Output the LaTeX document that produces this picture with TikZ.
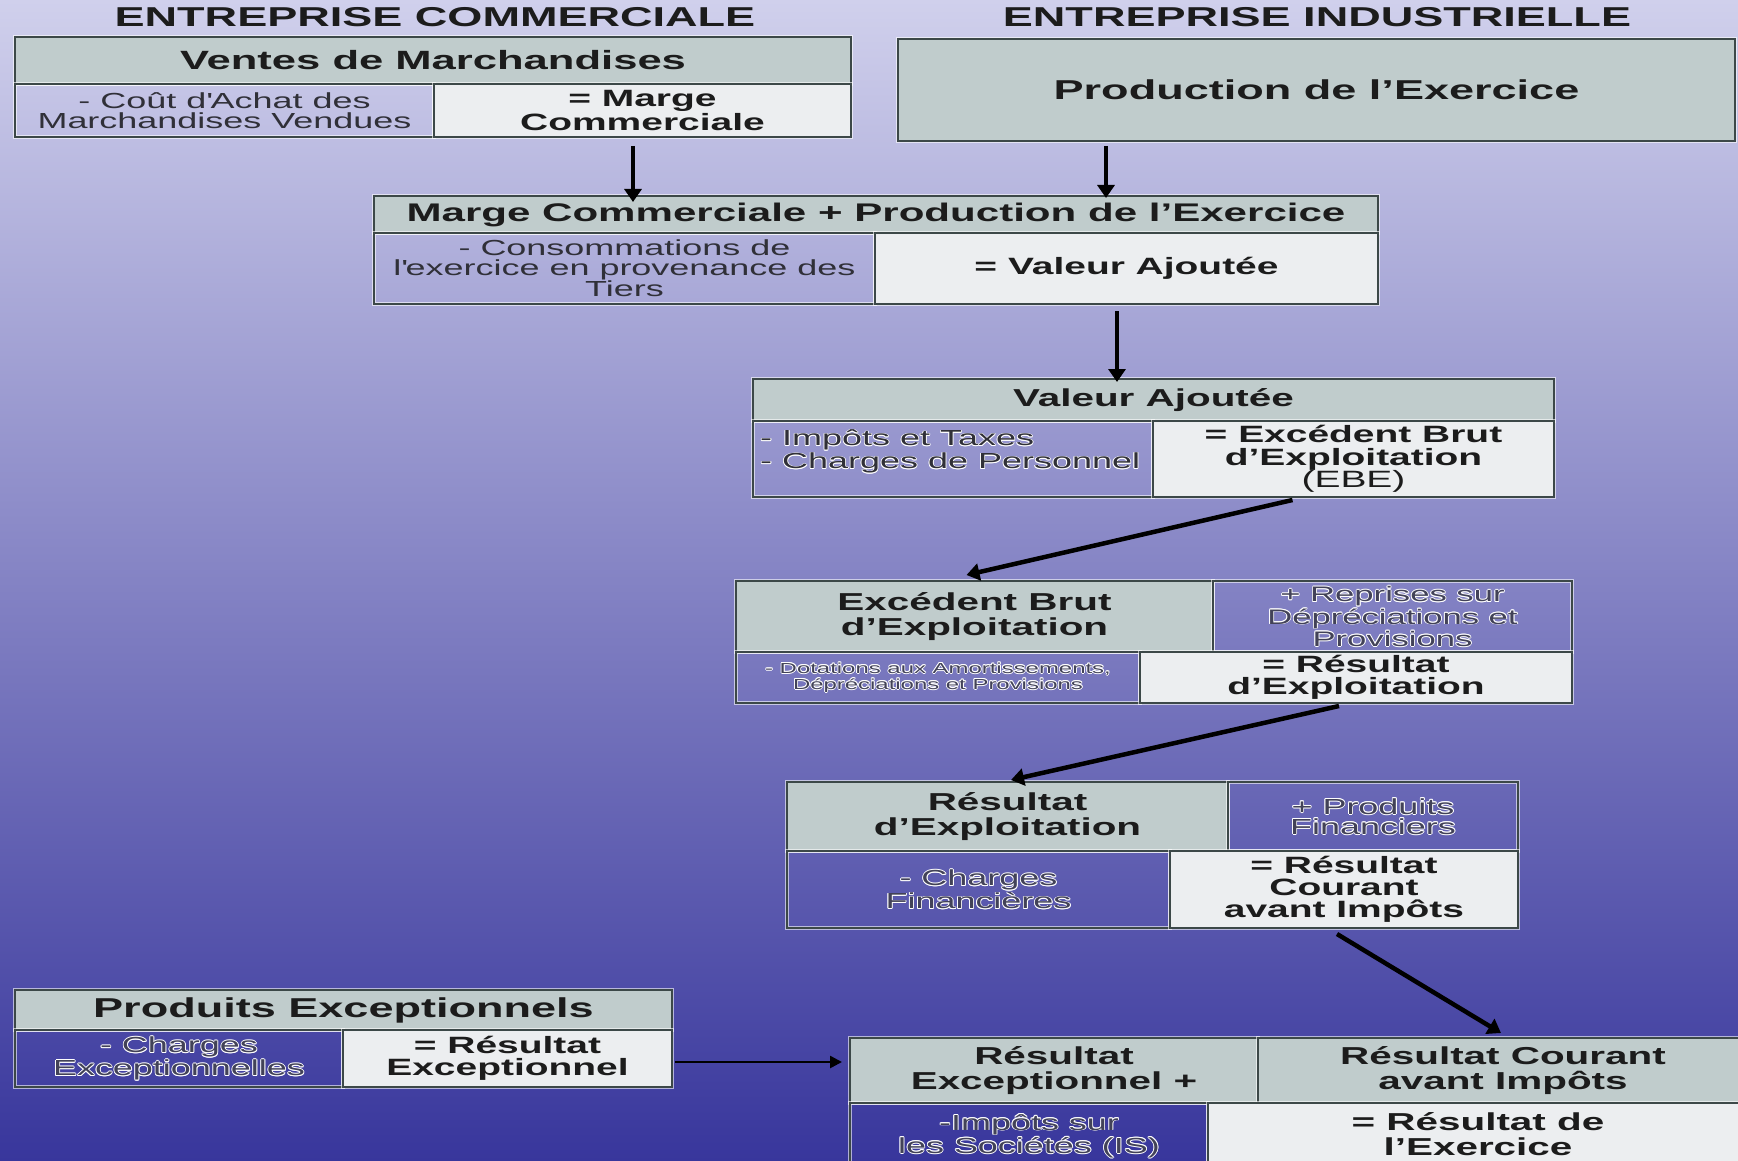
\documentclass[tikz,border=0pt]{standalone}
\usepackage{fontspec}
\setmainfont[FakeStretch=1.65]{Liberation Sans}
\usetikzlibrary{arrows.meta}
\definecolor{bgtop}{RGB}{208,208,236}
\definecolor{bgbot}{RGB}{56,54,156}
\definecolor{hdrc}{RGB}{192,204,204}
\definecolor{litec}{RGB}{236,238,240}
\definecolor{bdr}{RGB}{60,72,72}
\definecolor{txt}{RGB}{28,28,28}
\definecolor{txtr}{RGB}{48,48,56}
\definecolor{txtl}{RGB}{66,66,88}
\newcommand\txhalo[1]{\leavevmode\setbox0=\hbox{#1}%
\rlap{\color{white}\kern0.8pt\copy0}%
\rlap{\color{white}\kern-0.8pt\copy0}%
\rlap{\color{white}\raise0.8pt\copy0}%
\rlap{\color{white}\lower0.8pt\copy0}%
\rlap{\color{white}\kern0.6pt\raise0.6pt\copy0}%
\rlap{\color{white}\kern-0.6pt\raise0.6pt\copy0}%
\rlap{\color{white}\kern0.6pt\lower0.6pt\copy0}%
\rlap{\color{white}\kern-0.6pt\lower0.6pt\copy0}%
\box0}
\tikzset{
 cell/.style={draw=bdr, line width=2pt, inner sep=1pt, outer sep=0pt, anchor=north west, align=center, text=txt,
   preaction={draw=white, draw opacity=0.6, line width=4.5pt}},
 hdr/.style={cell, fill=hdrc},
 lite/.style={cell, fill=litec},
 pur/.style={cell, text=txtr},
 purl/.style={cell, text=txtl},
 fT/.style={font=\bfseries\fontsize{27.3}{28}\selectfont},
 fH/.style={font=\bfseries\fontsize{24.5}{25}\selectfont},
 fB/.style={font=\bfseries\fontsize{23.6}{22}\selectfont},
 fR/.style={font=\fontsize{21.8}{20}\selectfont},
 arr/.style={line width=4.5pt, -{Triangle[length=13pt,width=17pt]}},
}
\begin{document}
\begin{tikzpicture}[x=1pt,y=-1pt]
\useasboundingbox (0,0) rectangle (1738,1161);
\clip (0,0) rectangle (1738,1161);
\shade[top color=bgtop, bottom color=bgbot] (0,0) rectangle (1738,1161);

% titles
\node[fT, anchor=base, text=txt] (t1) at (435,27) {ENTREPRISE COMMERCIALE};
\node[fT, anchor=base, text=txt] (t2) at (1317,27) {ENTREPRISE INDUSTRIELLE};

% box 1
\node[hdr, minimum width=836pt, minimum height=47pt, font=\bfseries\fontsize{26.4}{27}\selectfont] (h1) at (15,37) {Ventes de Marchandises};
\node[pur, minimum width=419pt, minimum height=53pt, fR] (b1l) at (15,84) {- Coût d\textquotesingle Achat des\\Marchandises Vendues};
\node[lite, minimum width=417pt, minimum height=53pt, fB] (b1r) at (434,84) {= Marge\\Commerciale};

% production
\node[hdr, minimum width=837pt, minimum height=102pt, fT] (prod) at (898,39) {Production de l’Exercice};

% box 2
\node[hdr, minimum width=1004pt, minimum height=37pt, font=\bfseries\fontsize{25.5}{26}\selectfont] (h2) at (374,196) {Marge Commerciale + Production de l’Exercice};
\node[pur, minimum width=501pt, minimum height=71pt, fR] (b2l) at (374,233) {- Consommations de\\l\textquotesingle exercice en provenance des\\Tiers};
\node[lite, minimum width=503pt, minimum height=71pt, fB] (b2r) at (875,233) {= Valeur Ajoutée};

% box 3
\node[hdr, minimum width=801pt, minimum height=42pt, fH] (h3) at (753,379) {Valeur Ajoutée};
\node[pur, minimum width=400pt, minimum height=76pt] (b3l) at (753,421) {};
\node[font=\fontsize{21.8}{23}\selectfont, anchor=north west, align=left, text=txtr, inner sep=0pt] (b3lt) at (760,429) {\txhalo{- Impôts et Taxes}\\\txhalo{- Charges de Personnel}};
\node[lite, minimum width=401pt, minimum height=76pt, font=\bfseries\fontsize{23.6}{22.5}\selectfont] (b3r) at (1153,421) {= Excédent Brut\\d’Exploitation\\{\mdseries (EBE)}};

% box 4
\node[hdr, minimum width=477pt, minimum height=71pt, fH] (h4) at (736,581) {Excédent Brut\\d’Exploitation};
\node[purl, minimum width=359pt, minimum height=71pt, font=\fontsize{21}{20}\selectfont] (r4) at (1213,581) {\txhalo{+ Reprises sur}\\\txhalo{Dépréciations et}\\\txhalo{Provisions}};
\node[purl, minimum width=404pt, minimum height=51pt, font=\fontsize{14.5}{16}\selectfont] (b4l) at (736,652) {\txhalo{- Dotations aux Amortissements,}\\\txhalo{Dépréciations et Provisions}};
\node[lite, minimum width=432pt, minimum height=51pt, fB] (b4r) at (1140,652) {= Résultat\\d’Exploitation};

% box 5
\node[hdr, minimum width=441pt, minimum height=69pt, fH] (h5) at (787,782) {Résultat\\d’Exploitation};
\node[purl, minimum width=290pt, minimum height=69pt, fR] (r5) at (1228,782) {\txhalo{+ Produits}\\\txhalo{Financiers}};
\node[purl, minimum width=383pt, minimum height=77pt, fR] (b5l) at (787,851) {\txhalo{- Charges}\\\txhalo{Financières}};
\node[lite, minimum width=348pt, minimum height=77pt, fB] (b5r) at (1170,851) {= Résultat\\Courant\\avant Impôts};

% box 6
\node[hdr, minimum width=657pt, minimum height=40pt, fT] (h6) at (15,990) {Produits Exceptionnels};
\node[purl, minimum width=328pt, minimum height=57pt, fR] (b6l) at (15,1030) {\txhalo{- Charges}\\\txhalo{Exceptionnelles}};
\node[lite, minimum width=329pt, minimum height=57pt, fB] (b6r) at (343,1030) {= Résultat\\Exceptionnel};

% box 7
\node[hdr, minimum width=408pt, minimum height=65pt, fH] (h7l) at (850,1038) {Résultat\\Exceptionnel +};
\node[hdr, minimum width=490pt, minimum height=65pt, fH] (h7r) at (1258,1038) {Résultat Courant\\avant Impôts};
\node[purl, minimum width=358pt, minimum height=66pt, fR] (b7l) at (850,1103) {\txhalo{-Impôts sur}\\\txhalo{les Sociétés (IS)}};
\node[lite, minimum width=540pt, minimum height=62pt, fH] (b7r) at (1208,1103) {= Résultat de\\l’Exercice};

% arrows
\draw[arr, shorten >=3pt] ([shift={(-9.5,9)}]b1r.south) -- ([shift={(-9.5,9)}]b1r.south |- h2.north);
\draw[arr, shorten >=3pt] ([shift={(208,5)}]prod.south west) -- ([shift={(208,5)}]prod.south west |- h2.north);
\draw[arr, shorten >=4pt] ([shift={(-9.5,7)}]b2r.south) -- ([shift={(-9.5,7)}]b2r.south |- h3.north);
\draw[arr] ([shift={(-61,3)}]b3r.south) -- ([shift={(-8,-6)}]h4.north);
\draw[arr] ([shift={(-17,3)}]b4r.south) -- ([shift={(3.5,-2)}]h5.north);
\draw[arr] ([shift={(-7,6)}]b5r.south) -- ([shift={(-2,-5)}]h7r.north);
\draw[line width=2.5pt, -{Triangle[length=12pt,width=12pt]}] ([shift={(3,3.5)}]b6r.east) -- ([shift={(-8,3.5)}]b6r.east -| h7l.west);
\end{tikzpicture}
\end{document}
